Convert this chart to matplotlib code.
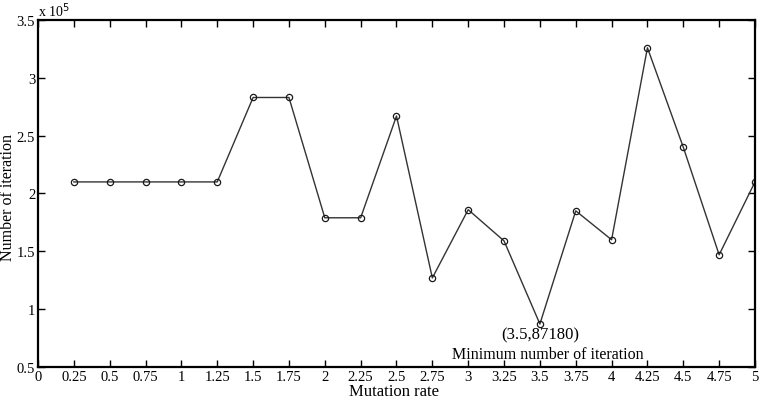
"""Number of iterations against mutation rate."""

import matplotlib

matplotlib.use("Agg")
import matplotlib.pyplot as plt
from matplotlib.ticker import FuncFormatter

mutation_rate = [0.25, 0.5, 0.75, 1, 1.25, 1.5, 1.75, 2, 2.25, 2.5,
                 2.75, 3, 3.25, 3.5, 3.75, 4, 4.25, 4.5, 4.75, 5]
iterations = [210000, 210000, 210000, 210000, 210000, 283000, 283000, 179000, 179000, 267000,
              127000, 186000, 159000, 87180, 185000, 160000, 326000, 240000, 147000, 210000]
x_ticks = [0, 0.25, 0.5, 0.75, 1, 1.25, 1.5, 1.75, 2, 2.25, 2.5,
           2.75, 3, 3.25, 3.5, 3.75, 4, 4.25, 4.5, 4.75, 5]
y_ticks = [50000, 100000, 150000, 200000, 250000, 300000, 350000]

plt.rcParams["font.family"] = ["Liberation Serif", "DejaVu Serif"]

fig = plt.figure(figsize=(7.63, 4.02), dpi=100)
ax = fig.add_axes([0.0498, 0.0846, 0.9397, 0.8632])

ax.plot(mutation_rate, iterations, color="#333333", linewidth=1.0,
        marker="o", markersize=4.5, markerfacecolor="none",
        markeredgecolor="#1a1a1a", markeredgewidth=0.9)

ax.set_xlim(0, 5)
ax.set_ylim(50000, 350000)
ax.set_xticks(x_ticks)
ax.set_xticklabels([f"{t:g}" for t in x_ticks])
ax.set_yticks(y_ticks)
ax.yaxis.set_major_formatter(FuncFormatter(lambda v, _: f"{v / 1e5:g}"))
ax.tick_params(direction="in", top=True, right=True, length=5, width=1.0,
               labelsize=10.5, pad=2)
for spine in ax.spines.values():
    spine.set_linewidth(1.6)

ax.text(0, 1.004, "x 10$^5$", transform=ax.transAxes, fontsize=10,
        ha="left", va="bottom")

ax.set_xlabel("Mutation rate", fontsize=12)
ax.xaxis.set_label_coords(0.4965, -0.047)
ax.set_ylabel("Number of iteration", fontsize=11.5)
ax.yaxis.set_label_coords(-0.042, 0.49)
ax.yaxis.label.set_va("center")

min_idx = iterations.index(min(iterations))
ax.annotate(f"({mutation_rate[min_idx]:g},{iterations[min_idx]})",
            xy=(mutation_rate[min_idx], iterations[min_idx]),
            xytext=(0, -2), textcoords="offset points",
            ha="center", va="top", fontsize=12)
ax.annotate("Minimum number of iteration",
            xy=(mutation_rate[min_idx], iterations[min_idx]),
            xytext=(6, -16), textcoords="offset points",
            ha="center", va="top", fontsize=11.5)

fig.savefig("out.png", dpi=100)
